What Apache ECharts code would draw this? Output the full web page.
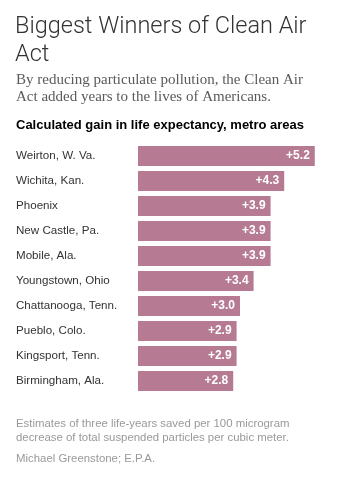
<!DOCTYPE html>
<html>
<head>
<meta charset="utf-8">
<script src="https://cdn.jsdelivr.net/npm/echarts@6/dist/echarts.min.js"></script>
<style>
  html, body { margin: 0; padding: 0; background: #fff; }
  #chart { width: 341px; height: 477px; }
</style>
</head>
<body>
<div id="chart"></div>
<script>
// Metro areas and their calculated life-expectancy gain (years)
const cities = [
  'Weirton, W. Va.', 'Wichita, Kan.', 'Phoenix', 'New Castle, Pa.', 'Mobile, Ala.',
  'Youngstown, Ohio', 'Chattanooga, Tenn.', 'Pueblo, Colo.', 'Kingsport, Tenn.', 'Birmingham, Ala.'
];
const gains = [5.2, 4.3, 3.9, 3.9, 3.9, 3.4, 3.0, 2.9, 2.9, 2.8];

const titleLines = ['Biggest Winners of Clean Air', 'Act'];
const subtitleLines = [
  'By reducing particulate pollution, the Clean Air',
  'Act added years to the lives of Americans.'
];
const header = 'Calculated gain in life expectancy, metro areas';
const noteLines = [
  'Estimates of three life-years saved per 100 microgram',
  'decrease of total suspended particles per cubic meter.'
];
const source = 'Michael Greenstone; E.P.A.';

const sans = '"Liberation Sans", Arial, sans-serif';
const serif = '"Liberation Serif", Georgia, serif';

const chart = echarts.init(document.getElementById('chart'), null, { renderer: 'canvas' });

function textEl(x, y, text, style) {
  return { type: 'text', left: x, top: y, style: Object.assign({ text: text }, style) };
}

chart.setOption({
  animation: false,
  grid: { left: 138, right: 16, top: 143.5, height: 250 },
  xAxis: {
    type: 'value', min: 0, max: 5.5, show: false
  },
  yAxis: {
    type: 'category', data: cities, inverse: true,
    axisLine: { show: false }, axisTick: { show: false },
    axisLabel: {
      align: 'left', margin: 122, color: '#333', fontSize: 11.6, fontFamily: sans
    }
  },
  series: [{
    type: 'bar', data: gains, barWidth: 20,
    itemStyle: { color: '#b67b93' },
    label: {
      show: true, position: 'insideRight', distance: 5,
      color: '#fff', fontSize: 12, fontWeight: 'bold', fontFamily: sans,
      formatter: p => '+' + p.value.toFixed(1)
    }
  }],
  graphic: [
    textEl(15, 13, titleLines.join('\n'), { font: '300 23.5px Roboto, sans-serif', fill: '#333', lineHeight: 28 }),
    textEl(16, 72, subtitleLines.join('\n'), { font: '15px ' + serif, fill: '#5a5a5a', lineHeight: 17 }),
    textEl(16, 119, header, { font: 'bold 13px ' + sans, fill: '#000' }),
    textEl(16, 417, noteLines.join('\n'), { font: '11.4px ' + sans, fill: '#999', lineHeight: 14 }),
    textEl(16, 453, source, { font: '11.4px ' + sans, fill: '#999' })
  ]
});
</script>
</body>
</html>
